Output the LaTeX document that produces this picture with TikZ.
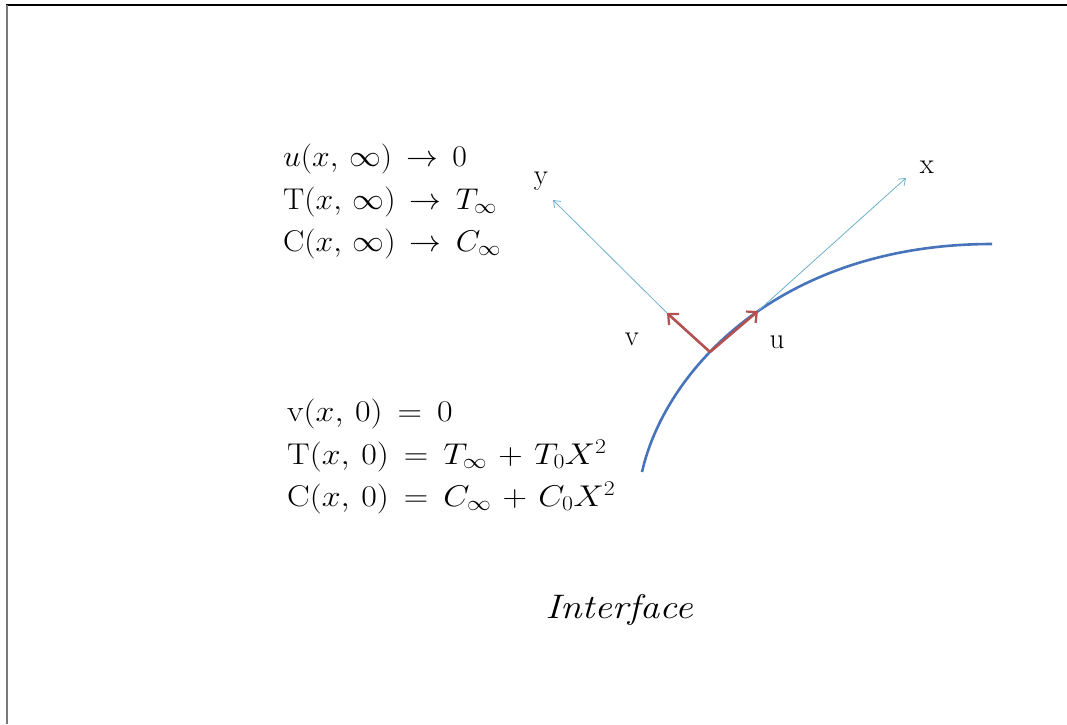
\RequirePackage{fix-cm}
\documentclass[tikz,border=0pt]{standalone}
\usetikzlibrary{arrows.meta}
\definecolor{curveblue}{RGB}{70,115,185}
\definecolor{axiscyan}{RGB}{110,175,205}
\definecolor{vecred}{RGB}{180,80,80}
\definecolor{framegray}{RGB}{120,120,120}
\newcommand{\eqsp}{\thickmuskip=8mu plus 2mu\medmuskip=6mu plus 2mu}
\tikzset{
  eqn/.style={anchor=base west, inner sep=0pt, font=\fontsize{30}{36}\selectfont\eqsp},
  lbl/.style={inner sep=0pt, font=\fontsize{29}{34}\selectfont},
  axisline/.style={draw=axiscyan, line width=0.8pt, -{Straight Barb[length=6pt,width=9pt]}},
  vecline/.style={draw=vecred, line width=2.6pt, -{Straight Barb[length=8pt,width=15pt,line width=2.2pt]}},
  interfacecurve/.style={draw=curveblue, line width=2.6pt},
}
\begin{document}
\begin{tikzpicture}[x=1pt,y=-1pt]
\useasboundingbox (0,0) rectangle (1067,724);
% frame
\draw[line width=1.5pt] (6,5) -- (1067,5);
\draw[framegray, line width=2pt] (7,5) -- (7,724);
% interface curve
\draw[interfacecurve] (642,472) .. controls (665,370) and (780,244) .. (992,244);
% points
\coordinate (O) at (710,352);
\coordinate (U) at (758,311);
\coordinate (V) at (667,313);
\coordinate (X) at (906,178);
\coordinate (Y) at (553,200);
% axes
\draw[axisline] (U) -- (X);
\draw[axisline] (V) -- (Y);
% velocity vectors
\draw[vecline] (O) -- (U);
\draw[vecline] (O) -- (V);
% labels
\node[lbl] (lx) at (927,167) {x};
\node[lbl] (ly) at (541,181) {y};
\node[lbl] (lv) at (632,339) {v};
\node[lbl] (lu) at (777,342) {u};
% boundary conditions at infinity
\node[eqn, xscale=1.06] (e1) at (283,166) {$u(x,\,\infty)\rightarrow 0$};
\node[eqn, xscale=1.06] (e2) at (283,209) {$\mathrm{T}(x,\,\infty)\rightarrow T_\infty$};
\node[eqn, xscale=1.06] (e3) at (283,251) {$\mathrm{C}(x,\,\infty)\rightarrow C_\infty$};
% boundary conditions at wall
\node[eqn, xscale=1.13] (e4) at (287,421) {$\mathrm{v}(x,\,0)=0$};
\node[eqn, xscale=1.13] (e5) at (287,464) {$\mathrm{T}(x,\,0)=T_\infty+T_0X^2$};
\node[eqn, xscale=1.13] (e6) at (287,506) {$\mathrm{C}(x,\,0)=C_\infty+C_0X^2$};
% caption
\node[inner sep=0pt, xscale=1.15, font=\fontsize{34}{40}\selectfont\itshape] (cap) at (619,610) {Interface};
\end{tikzpicture}
\end{document}
